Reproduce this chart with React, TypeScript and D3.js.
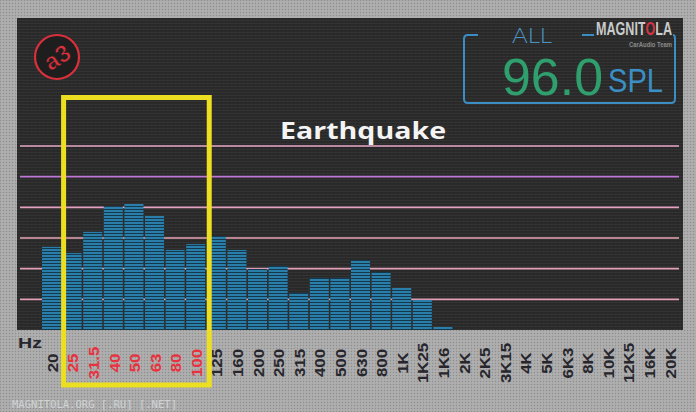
import React from 'react';
import * as d3 from 'd3';

const bands = ["20","25","31.5","40","50","63","80","100","125","160","200","250","315","400","500","630","800","1K","1K25","1K6","2K","2K5","3K15","4K","5K","6K3","8K","10K","12K5","16K","20K"];
const levels = [27.1,25.1,32.0,40.4,41.1,37.2,26.1,28.0,30.6,26.1,19.9,20.9,12.1,17.0,17.0,22.8,18.9,13.7,9.8,1.0,0,0,0,0,0,0,0,0,0,0,0];
const highlighted = ["25","31.5","40","50","63","80","100"];
const gridLevels = [10,20,30,40,50,60];
const gridColors = ["#e4a0b8","#e4a0b8","#e8a4b4","#e4a0c0","#c078d8","#e8a8c8"];
const title = "Earthquake";
const splValue = "96.0";
const splUnit = "SPL";
const splMode = "ALL";
const xUnit = "Hz";
const brand = "MAGNITOLA";
const brandSub = "CarAudio Team";
const watermark = "MAGNITOLA.ORG [.RU] [.NET]";

const W = 696, H = 412;

export default function App() {
  const x = d3.scaleBand<string>().domain(bands).range([42, 679]).paddingInner(0.075).paddingOuter(0);
  const y = d3.scaleLinear().domain([0, 60]).range([330, 146]);
  const data = bands.map((b, i) => ({ band: b, v: levels[i] }));
  const hiX0 = (x(highlighted[0]) as number) - 1;
  const hiX1 = (x(highlighted[highlighted.length - 1]) as number) + x.bandwidth() + 3;

  return (
    <svg width={W} height={H} style={{ position: 'absolute', left: 0, top: 0, display: 'block' }}>
      <defs>
        <pattern id="halftone" width="3" height="3" patternUnits="userSpaceOnUse">
          <rect width="3" height="3" fill="#a9a9a9" />
          <rect width="1" height="1" fill="#8e8e8e" />
          <rect x="1.5" y="1.5" width="1" height="1" fill="#c2c2c2" />
        </pattern>
        <pattern id="darktex" width="4" height="3" patternUnits="userSpaceOnUse">
          <rect width="4" height="3" fill="#2a2a2a" />
          <rect y="2" width="4" height="1" fill="#333333" />
          <rect x="1" width="1" height="1" fill="#242424" />
        </pattern>
        <pattern id="led" width="6" height="3" patternUnits="userSpaceOnUse">
          <rect width="6" height="3" fill="#2a7eaa" />
          <rect y="2" width="6" height="1" fill="#16384c" />
        </pattern>
        <linearGradient id="brandFill" gradientUnits="userSpaceOnUse" x1={0} y1={0} x2={76} y2={0}>
          <stop offset="0" stopColor="#c8cccc" />
          <stop offset="0.64" stopColor="#c8cccc" />
          <stop offset="0.64" stopColor="#d83444" />
          <stop offset="0.785" stopColor="#d83444" />
          <stop offset="0.785" stopColor="#c8cccc" />
          <stop offset="1" stopColor="#c8cccc" />
        </linearGradient>
      </defs>

      <rect x={0} y={0} width={W} height={H} fill="url(#halftone)" />
      <rect x={17} y={18} width={666} height={312} fill="url(#darktex)" />

      {/* logo */}
      <g transform="translate(57,57)">
        <circle r={22} fill="#1e1e1e" stroke="#d9303c" strokeWidth={2.2} />
        <text transform="rotate(-32)" textAnchor="middle" dy="0.36em" fontFamily="Liberation Sans, Arial" fontWeight="bold" fontSize={24} fill="#d9303c" stroke="#1e1e1e" strokeWidth={0.8}>a3</text>
      </g>

      {/* display */}
      <g>
        <path d="M 478 35 L 468 35 Q 464 35 464 39 L 464 99 Q 464 103 468 103 L 671 103 Q 675 103 675 99 L 675 39 Q 675 35 673 35" fill="none" stroke="#3a8ec4" strokeWidth={2} />
        <line x1={582} x2={594} y1={35} y2={35} stroke="#3a8ec4" strokeWidth={2} />
        <text x={512} y={43} fontFamily="Lato, Liberation Sans" fontSize={22} fill="#4a92c0" textLength={40} lengthAdjust="spacingAndGlyphs" fontWeight={300}>{splMode}</text>
        <text x={502} y={95} fontFamily="Liberation Sans, Arial" fontSize={52} fill="#2f9f6e" textLength={101} lengthAdjust="spacingAndGlyphs">{splValue}</text>
        <text x={608} y={92} fontFamily="Liberation Sans, Arial" fontSize={33} fill="#3a8fc4" textLength={55} lengthAdjust="spacingAndGlyphs">{splUnit}</text>
        <text transform="translate(596,35) scale(1,1.05)" fontFamily="Liberation Sans, Arial" fontWeight="bold" fontSize={17} fill="url(#brandFill)" textLength={76} lengthAdjust="spacingAndGlyphs">{brand}</text>
        <text x={629} y={47} fontFamily="Liberation Sans, Arial" fontWeight="bold" fontSize={7.5} fill="#8a8a8a" textLength={43} lengthAdjust="spacingAndGlyphs">{brandSub}</text>
      </g>

      {/* grid lines */}
      {gridLevels.map((g, i) => (
        <line key={g} x1={20} x2={679} y1={y(g)} y2={y(g)} stroke={gridColors[i]} strokeWidth={1.6} />
      ))}

      {/* title */}
      <text x={363} y={139} textAnchor="middle" fontFamily="Open Sans, Liberation Sans" fontWeight="bold" fontSize={24} fill="#f4f4f4" textLength={166} lengthAdjust="spacingAndGlyphs">{title}</text>

      {/* bars */}
      {data.map(d => (
        <rect key={d.band} x={x(d.band)} y={y(d.v)} width={x.bandwidth()} height={y(0) - y(d.v)} fill="url(#led)" />
      ))}

      {/* x labels */}
      <text x={18} y={348} fontFamily="Liberation Sans, Arial" fontWeight="bold" fontSize={15} fill="#26262c" textLength={24} lengthAdjust="spacingAndGlyphs">{xUnit}</text>
      {bands.map(b => {
        const cx = (x(b) as number) + x.bandwidth() / 2 + 1;
        const hi = highlighted.includes(b);
        return (
          <text key={b} transform={`translate(${cx},363) rotate(-90) scale(1.12,1)`} textAnchor="middle" dominantBaseline="central" fontFamily="Liberation Sans, Arial" fontWeight="bold" fontSize={15} fill={hi ? "#e8323e" : "#26262c"}>{b}</text>
        );
      })}

      {/* highlight box */}
      <rect x={hiX0 + 2} y={97.5} width={hiX1 - hiX0 - 1} height={287.5} fill="none" stroke="#ecdf22" strokeWidth={5} />

      <text x={12} y={408} fontFamily="DejaVu Sans Mono, monospace" fontSize={10.5} fill="#cfd3d3" textLength={165} lengthAdjust="spacingAndGlyphs">{watermark}</text>
    </svg>
  );
}
